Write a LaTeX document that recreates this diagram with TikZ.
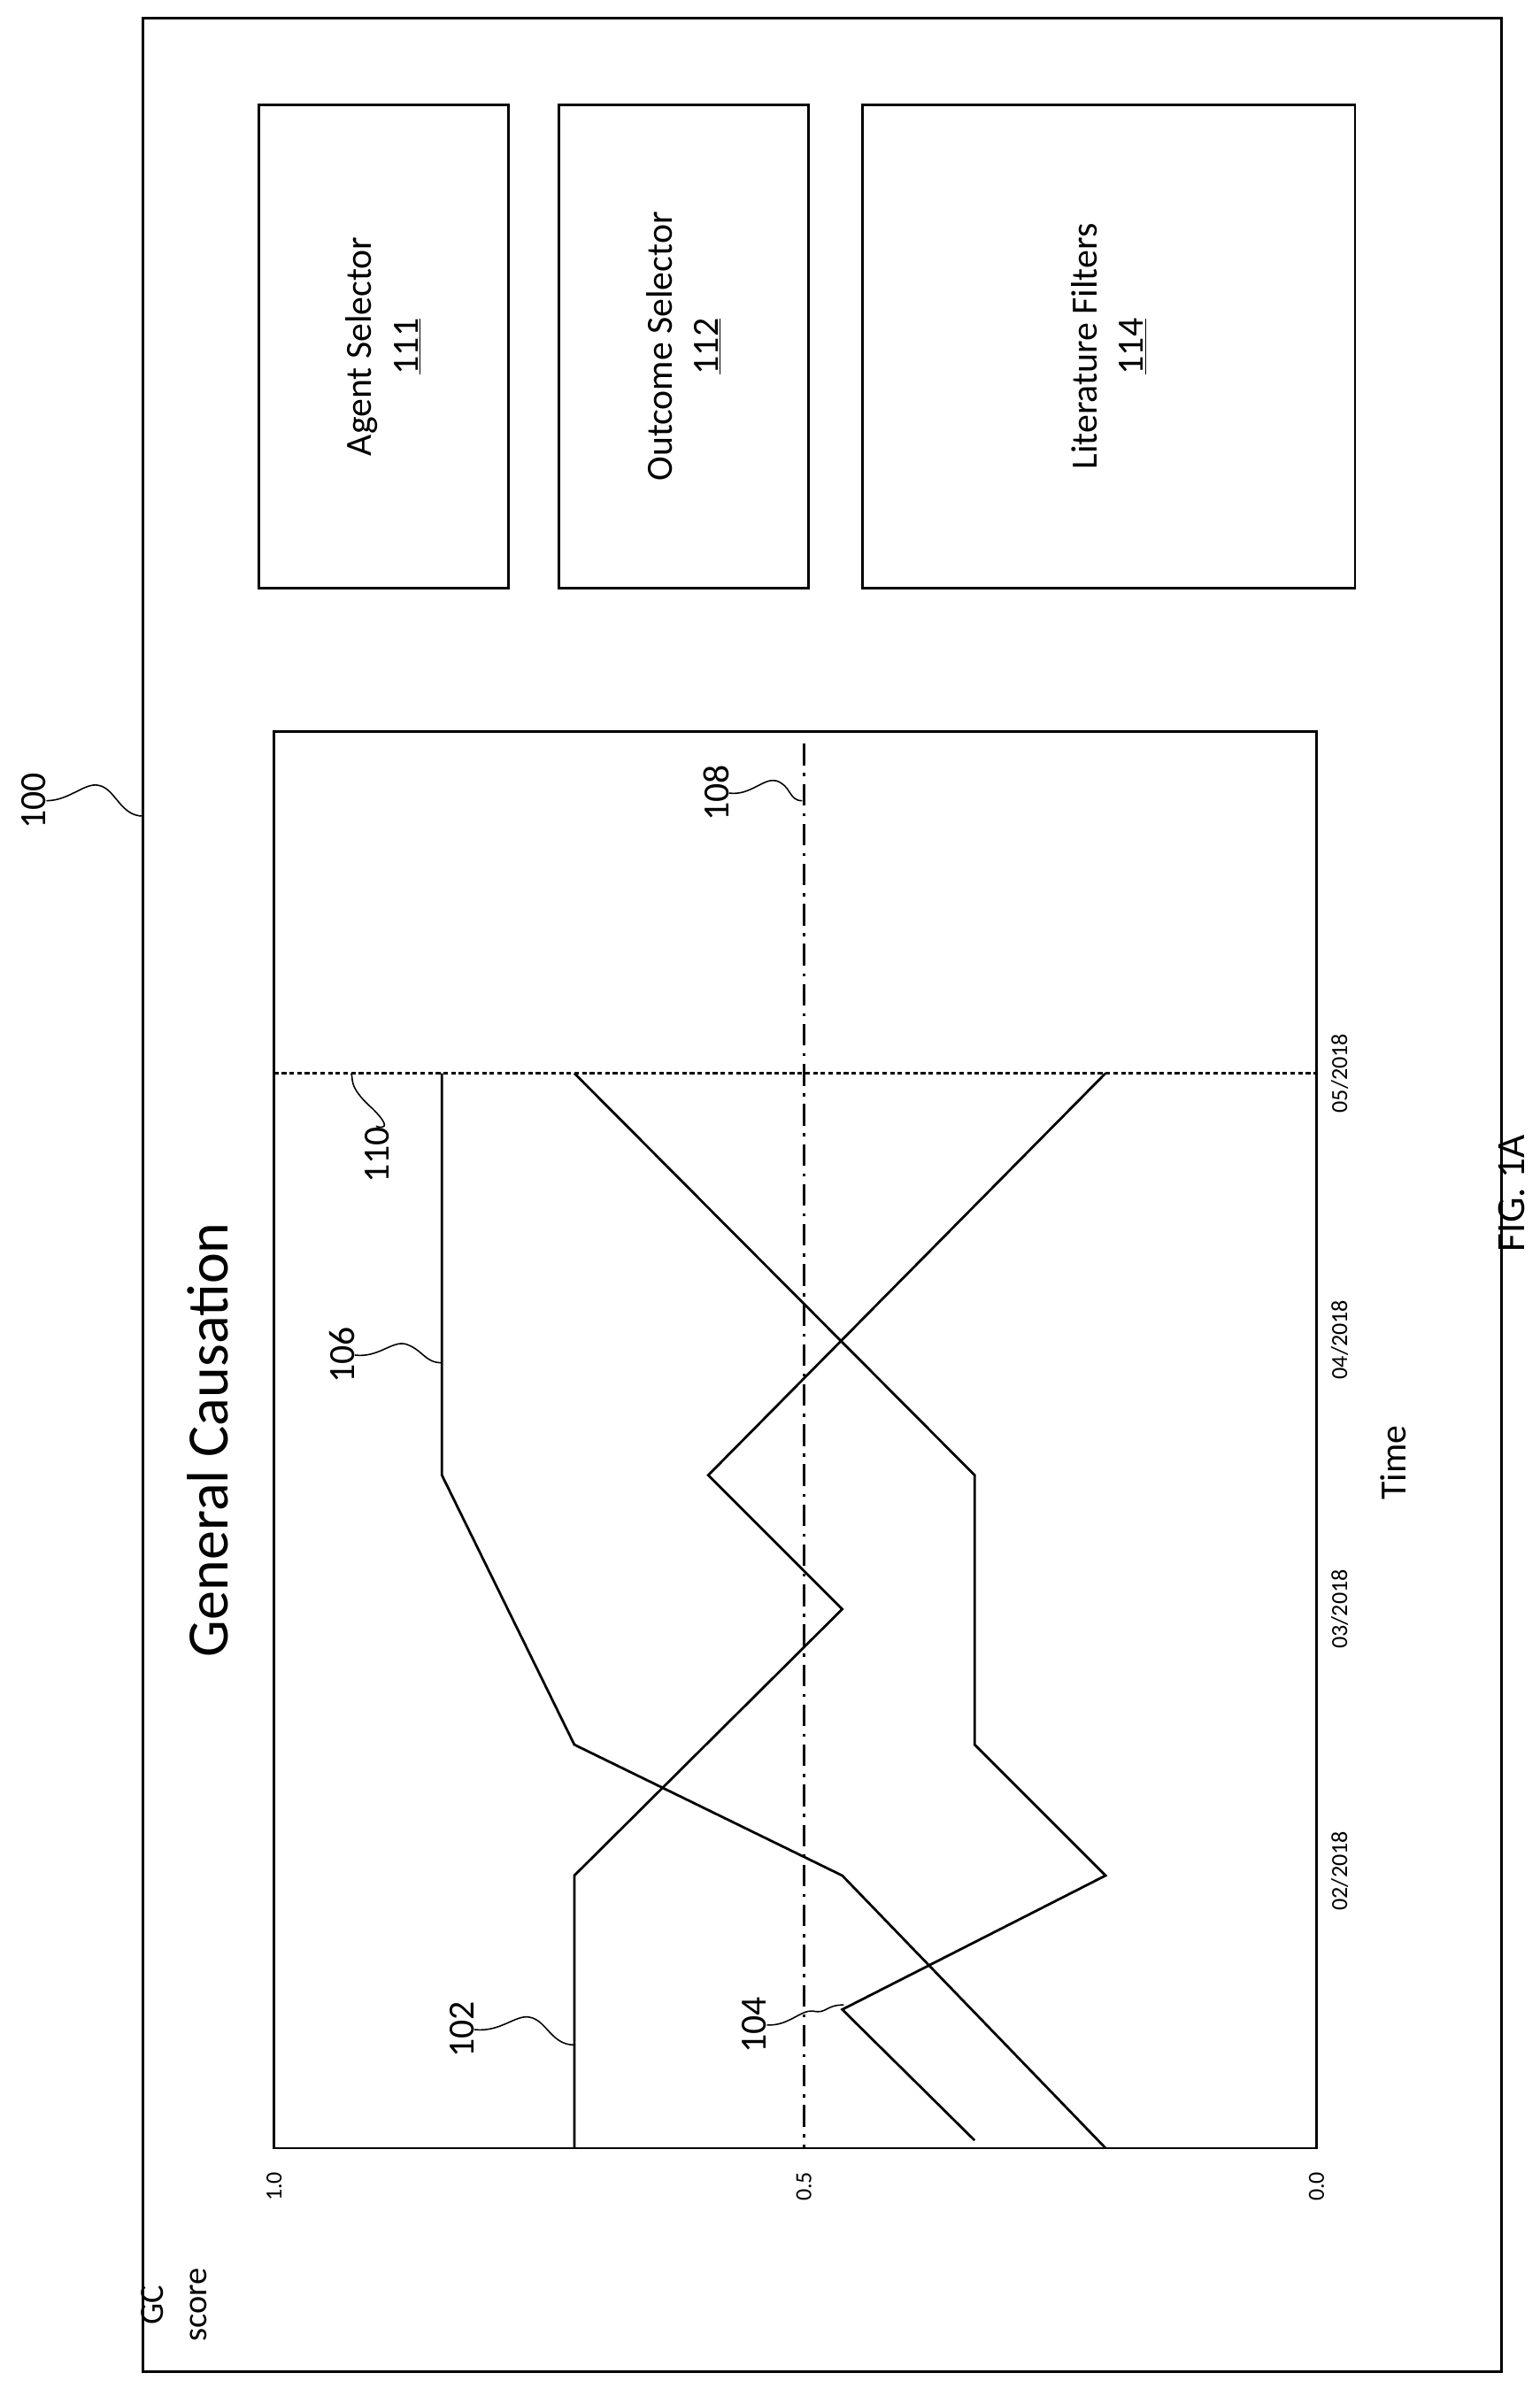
\documentclass[tikz,border=0pt]{standalone}
\usepackage{fontspec}
\setmainfont{Carlito}
\begin{document}
\begin{tikzpicture}[x=1pt,y=-1pt,
  box/.style={draw,line width=1.6pt},
  curve/.style={line width=1.6pt,line join=miter},
  lab/.style={rotate=90,font=\fontsize{24}{26}\selectfont,inner sep=0pt},
  tick/.style={rotate=90,font=\fontsize{15}{17}\selectfont,inner sep=0pt},
  sq/.style={line width=0.9pt}]
\useasboundingbox (0,0) rectangle (1000,1556);
\draw[box] (93,12) rectangle (975,1540);
% selector boxes
\draw[box] (168,68) rectangle (330,382);
\draw[box] (363,68) rectangle (525,382);
\draw[box] (560,68) rectangle (880,382);
\node[rotate=90,align=center,font=\fontsize{24}{30}\selectfont] (a) at (249,225) {Agent Selector\\\underline{111}};
\node[rotate=90,align=center,font=\fontsize{24}{30}\selectfont] (o) at (444,225) {Outcome Selector\\\underline{112}};
\node[rotate=90,align=center,font=\fontsize{24}{30}\selectfont] (l) at (720,225) {Literature Filters\\\underline{114}};
% chart
\draw[box] (178,475) rectangle (855,1395);
\draw[line width=1.6pt,dash pattern=on 14pt off 5pt on 2pt off 5pt] (522,483) -- (522,1395);
\draw[line width=1.4pt,dash pattern=on 3pt off 2pt] (178,697) -- (855,697);
\draw[curve] (373,1395) -- (373,1218) -- (547,1045) -- (460,958) -- (718,697);
\draw[curve] (718,1395) -- (547,1218) -- (373,1133) -- (287,958) -- (287,697);
\draw[curve] (633,1390) -- (547,1305) -- (718,1218) -- (633,1133) -- (633,958) -- (373,697);
% ticks
\node[tick] (t1) at (178,1420) {1.0};
\node[tick] (t5) at (522,1420) {0.5};
\node[tick] (t0) at (855,1420) {0.0};
\node[tick] (d2) at (870,1215) {02/2018};
\node[tick] (d3) at (870,1045) {03/2018};
\node[tick] (d4) at (870,870) {04/2018};
\node[tick] (d5) at (870,697) {05/2018};
\node[rotate=90,align=center,font=\fontsize{22}{28}\selectfont] (gc) at (113,1497) {GC\\score};
\node[rotate=90,font=\fontsize{24}{26}\selectfont] (time) at (905,950) {Time};
\node[rotate=90,font=\fontsize{38}{40}\selectfont] (title) at (135,935) {General Causation};
\node[rotate=90,font=\fontsize{26}{28}\selectfont] (fig) at (982,775) {FIG. 1A};
% reference labels
\node[lab] (n100) at (22,520) {100};
\node[lab] (n102) at (300,1318) {102};
\node[lab] (n104) at (490,1315) {104};
\node[lab] (n106) at (222,880) {106};
\node[lab] (n108) at (465,515) {108};
\node[lab] (n110) at (245,750) {110};
\coordinate (e100) at (93,530);
\coordinate (e102) at (373,1328);
\coordinate (e104) at (548,1302);
\coordinate (e106) at (287,885);
\coordinate (e108) at (521,520);
\coordinate (e110) at (228,697);
\draw[sq] (n100.south) .. controls (45,520) and (55,508) .. (64,510) .. controls (75,512) and (78,530) .. (e100);
\draw[sq] (n102.south) .. controls (325,1320) and (335,1308) .. (344,1310) .. controls (355,1312) and (358,1328) .. (e102);
\draw[sq] (n104.south) .. controls (512,1316) and (520,1305) .. (528,1306) .. controls (537,1308) and (536,1302) .. (e104);
\draw[sq] (n106.south) .. controls (246,882) and (255,870) .. (264,873) .. controls (275,877) and (276,885) .. (e106);
\draw[sq] (n108.south) .. controls (487,517) and (496,505) .. (504,507) .. controls (514,510) and (512,520) .. (e108);
\draw[sq] (n110.east) .. controls (240,730) and (260,738) .. (242,720) .. controls (225,705) and (230,700) .. (e110);
\end{tikzpicture}
\end{document}
